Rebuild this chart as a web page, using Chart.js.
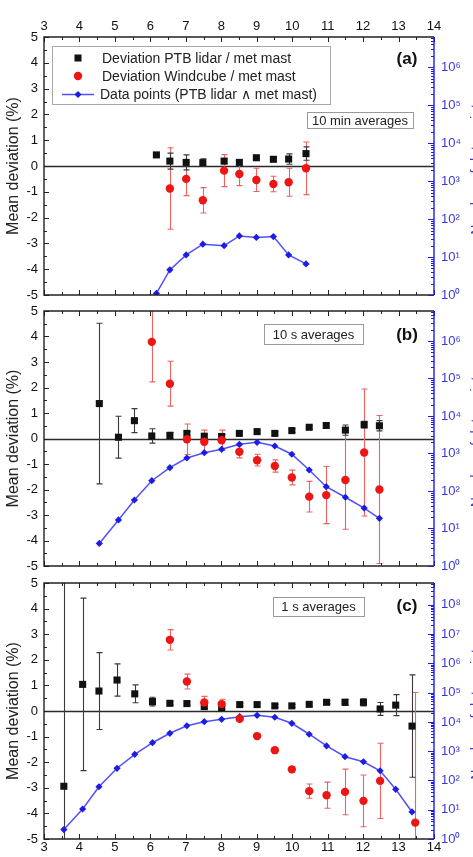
<!DOCTYPE html>
<html>
<head>
<meta charset="utf-8">
<script src="https://cdn.jsdelivr.net/npm/chart.js@4.4.1/dist/chart.umd.min.js"></script>
<style>
  html, body { margin: 0; padding: 0; background: #fff; overflow: hidden; }
  .panel { position: absolute; left: 0; width: 473px; }
</style>
</head>
<body>
<div class="panel" style="top:0;height:303px"><canvas id="panelA"></canvas></div>
<div class="panel" style="top:303px;height:270px"><canvas id="panelB"></canvas></div>
<div class="panel" style="top:572px;height:285px"><canvas id="panelC"></canvas></div>

<script>
// ---- (a) 10 min averages ----
const speedA   = [6.17, 6.55, 7.01, 7.48, 8.08, 8.51, 8.99, 9.47, 9.90, 10.39];
const ptbA     = [0.43, 0.19, 0.14, 0.13, 0.19, 0.14, 0.32, 0.26, 0.27, 0.48];
const ptbErrA  = [0.05, 0.31, 0.29, 0.15, 0.10, 0.08, 0.07, 0.06, 0.20, 0.26];
const wcSpeedA = [6.55, 7.01, 7.48, 8.08, 8.51, 8.99, 9.47, 9.90, 10.39];
const wcA      = [-0.87, -0.50, -1.33, -0.18, -0.31, -0.54, -0.70, -0.63, -0.09];
const wcErrA   = [1.58, 0.65, 0.49, 0.62, 0.45, 0.45, 0.30, 0.54, 1.02];
const countA   = [1.1, 4.6, 11.4, 21.8, 20, 36, 33, 34.6, 11.4, 6.6];

// ---- (b) 10 s averages ----
const speedB   = [4.56, 5.10, 5.55, 6.04, 6.55, 7.03, 7.52, 8.01, 8.51, 9.01, 9.51, 9.99, 10.48, 10.96, 11.50, 12.03, 12.46];
const ptbB     = [1.37, 0.05, 0.70, 0.10, 0.12, 0.20, 0.09, 0.08, 0.20, 0.27, 0.20, 0.31, 0.44, 0.51, 0.33, 0.54, 0.50];
const ptbErrB  = [3.15, 0.82, 0.47, 0.28, 0.12, 0.08, 0.08, 0.08, 0.06, 0.06, 0.06, 0.07, 0.07, 0.09, 0.20, 0.13, 0.20];
const wcSpeedB = [6.04, 6.55, 7.03, 7.52, 8.01, 8.51, 9.01, 9.51, 9.99, 10.48, 10.96, 11.50, 12.03, 12.46];
const wcB      = [3.79, 2.15, -0.03, -0.13, -0.07, -0.52, -0.85, -1.08, -1.53, -2.28, -2.22, -1.63, -0.55, -2.00];
const wcErrB   = [1.57, 0.88, 0.60, 0.46, 0.40, 0.24, 0.23, 0.24, 0.29, 0.60, 1.12, 1.93, 2.49, 2.90];
const countB   = [4.0, 16.9, 57.5, 188, 418, 759, 1050, 1290, 1760, 1990, 1585, 955, 363, 130, 68, 35, 18.7];

// ---- (c) 1 s averages ----
const speedC   = [3.56, 4.09, 4.55, 5.06, 5.56, 6.06, 6.55, 7.03, 7.52, 8.01, 8.52, 9.01, 9.51, 9.99, 10.48, 10.97, 11.49, 12.01, 12.48, 12.92, 13.38];
const ptbC     = [-2.94, 1.04, 0.78, 1.21, 0.67, 0.37, 0.30, 0.29, 0.17, 0.13, 0.25, 0.25, 0.20, 0.20, 0.26, 0.34, 0.34, 0.34, 0.08, 0.23, -0.59];
const ptbErrC  = [8.2, 3.37, 1.50, 0.63, 0.35, 0.17, 0.06, 0.06, 0.06, 0.06, 0.06, 0.06, 0.06, 0.06, 0.06, 0.06, 0.12, 0.14, 0.25, 0.41, 2.0];
const wcSpeedC = [6.55, 7.03, 7.52, 8.01, 8.52, 9.01, 9.51, 9.99, 10.48, 10.97, 11.49, 12.01, 12.48, 13.47];
const wcC      = [2.78, 1.15, 0.33, 0.27, -0.30, -0.98, -1.53, -2.28, -3.13, -3.29, -3.16, -3.51, -2.73, -4.36];
const wcErrC   = [0.40, 0.29, 0.24, 0.19, 0.05, 0.05, 0.05, 0.10, 0.28, 0.51, 0.89, 1.01, 1.47, 5.08];
const countC   = [2.1, 10.6, 61, 261, 785, 1950, 4100, 7400, 10200, 12300, 15100, 16900, 14500, 9000, 3800, 1510, 650, 437, 215, 50, 8.4];

const xTicks = [3, 4, 5, 6, 7, 8, 9, 10, 11, 12, 13, 14];

const FONT      = "'Liberation Sans', Arial, sans-serif";
const BLACK     = "#111111";
const RED       = "#ee1515";
const RED_BAR   = "#f06262";
const BLUE      = "#1c1ce6";
const BLUE_LINE = "#5050ff";
const BLUE_TEXT = "#3a3ad8";
const SUP = ["⁰", "¹", "²", "³", "⁴", "⁵", "⁶", "⁷", "⁸", "⁹"];

const LABEL_PTB = "Deviation PTB lidar / met mast";
const LABEL_WC  = "Deviation Windcube / met mast";
const LABEL_N   = "Data points (PTB lidar \u2227 met mast)";

function toPoints(xs, ys){
  return xs.map((x, i) => ({ x, y: ys[i] }));
}

// fixes the box size of an axis and drops the label overflow padding
function fixAxis(width, height){
  return (s) => {
    if(width !== null) s.width = width;
    if(height !== null) s.height = height;
    s.paddingTop = 0; s.paddingBottom = 0; s.paddingLeft = 0; s.paddingRight = 0;
  };
}

const panelDecor = {
  id: "panelDecor",
  beforeDatasetsDraw(chart){
    const { ctx, chartArea: a, scales: { y } } = chart;
    ctx.save();
    const y0 = Math.round(y.getPixelForValue(0)) + 0.5;
    ctx.strokeStyle = "#2a2a2a";
    ctx.lineWidth = 1.3;
    ctx.beginPath(); ctx.moveTo(a.left, y0); ctx.lineTo(a.right, y0); ctx.stroke();

    ctx.beginPath(); ctx.rect(a.left, a.top, a.right - a.left, a.bottom - a.top); ctx.clip();
    chart.data.datasets.forEach((ds, i) => {
      if(!ds.errors) return;
      const meta = chart.getDatasetMeta(i);
      ctx.strokeStyle = ds.errorColor;
      ctx.lineWidth = 1.1;
      meta.data.forEach((pt, j) => {
        const e = ds.errors[j];
        if(!e) return;
        const v  = ds.data[j].y;
        const yt = y.getPixelForValue(v + e);
        const yb = y.getPixelForValue(v - e);
        const px = Math.round(pt.x) + 0.5;
        ctx.beginPath();
        ctx.moveTo(px, yt); ctx.lineTo(px, yb);
        ctx.moveTo(px - 3, yt); ctx.lineTo(px + 3, yt);
        ctx.moveTo(px - 3, yb); ctx.lineTo(px + 3, yb);
        ctx.stroke();
      });
    });
    ctx.restore();
  },
  afterDraw(chart, args, o){
    const { ctx, chartArea: a, scales: { x, y, yR } } = chart;
    ctx.save();

    // inward ticks on the bottom/left/top frame
    ctx.strokeStyle = "#222";
    ctx.lineWidth = 1;
    ctx.beginPath();
    for(let v = 3; v <= 14; v += 0.5){
      const px = Math.round(x.getPixelForValue(v)) + 0.5;
      const len = Number.isInteger(v) ? 5 : 3;
      ctx.moveTo(px, a.top); ctx.lineTo(px, a.top + len);
      ctx.moveTo(px, a.bottom); ctx.lineTo(px, a.bottom - len);
    }
    for(let v = -5; v <= 5; v += 0.5){
      const py = Math.round(y.getPixelForValue(v)) + 0.5;
      const len = Number.isInteger(v) ? 5 : 3;
      ctx.moveTo(a.left, py); ctx.lineTo(a.left + len, py);
    }
    ctx.stroke();

    ctx.lineWidth = 1.4;
    ctx.beginPath();
    ctx.moveTo(a.right, a.top); ctx.lineTo(a.left, a.top);
    ctx.lineTo(a.left, a.bottom); ctx.lineTo(a.right, a.bottom);
    ctx.stroke();

    // blue log axis on the right
    ctx.strokeStyle = BLUE;
    ctx.beginPath(); ctx.moveTo(a.right, a.top); ctx.lineTo(a.right, a.bottom); ctx.stroke();
    ctx.lineWidth = 1;
    ctx.beginPath();
    for(let e = 0; e <= 9; e++){
      for(let k = 1; k <= 9; k++){
        const v = k * Math.pow(10, e);
        if(v > yR.max) break;
        const py = Math.round(yR.getPixelForValue(v)) + 0.5;
        const len = k === 1 ? 6 : 3;
        ctx.moveTo(a.right, py); ctx.lineTo(a.right - len, py);
      }
    }
    ctx.stroke();

    // right axis title, mostly outside the picture
    ctx.save();
    ctx.translate(a.right + 36, (a.top + a.bottom) / 2);
    ctx.rotate(-Math.PI / 2);
    ctx.fillStyle = BLUE_TEXT;
    ctx.font = `14px ${FONT}`;
    ctx.textAlign = "center";
    ctx.textBaseline = "top";
    ctx.fillText("Number of data points", 0, 0);
    ctx.restore();

    // annotation box
    const [bx, by, bw, bh] = o.noteBox;
    ctx.strokeStyle = "#9a9a9a";
    ctx.lineWidth = 1;
    ctx.strokeRect(Math.round(a.left + bx) + 0.5, Math.round(a.top + by) + 0.5, bw, bh);
    ctx.fillStyle = "#222";
    ctx.font = `13px ${FONT}`;
    ctx.textAlign = "center";
    ctx.textBaseline = "middle";
    ctx.fillText(o.note, a.left + bx + bw / 2, a.top + by + bh / 2 + 1);

    // panel letter
    ctx.font = `bold 17px ${FONT}`;
    ctx.fillStyle = BLACK;
    ctx.fillText(o.letter, a.left + 363, a.top + o.letterY);

    if(o.legend) drawLegend(ctx, a);
    ctx.restore();
  }
};

function drawLegend(ctx, a){
  const lx = a.left + 8, ly = a.top + 9;
  ctx.strokeStyle = "#a8a8a8";
  ctx.lineWidth = 1;
  ctx.strokeRect(Math.round(lx) + 0.5, Math.round(ly) + 0.5, 278, 58);

  const mx = a.left + 34;
  const rows = [a.top + 21, a.top + 39, a.top + 57.5];

  ctx.fillStyle = BLACK;
  ctx.fillRect(mx - 3.5, rows[0] - 3.5, 7, 7);

  ctx.fillStyle = RED;
  ctx.beginPath(); ctx.arc(mx, rows[1], 4.2, 0, Math.PI * 2); ctx.fill();

  ctx.strokeStyle = BLUE_LINE;
  ctx.lineWidth = 1.5;
  ctx.beginPath(); ctx.moveTo(mx - 16, rows[2]); ctx.lineTo(mx + 16, rows[2]); ctx.stroke();
  ctx.fillStyle = BLUE;
  ctx.beginPath();
  ctx.moveTo(mx, rows[2] - 3.5); ctx.lineTo(mx + 3.5, rows[2]);
  ctx.lineTo(mx, rows[2] + 3.5); ctx.lineTo(mx - 3.5, rows[2]);
  ctx.closePath(); ctx.fill();

  ctx.fillStyle = "#222";
  ctx.font = `14px ${FONT}`;
  ctx.textAlign = "left";
  ctx.textBaseline = "middle";
  ctx.fillText(LABEL_PTB, a.left + 58, rows[0] + 1);
  ctx.fillText(LABEL_WC,  a.left + 58, rows[1] + 1);
  ctx.fillText(LABEL_N,   a.left + 56, rows[2] + 1);
}

function buildPanel(id, p){
  const decades = [];
  for(let e = 0; Math.pow(10, e) <= p.countMax; e++) decades.push(Math.pow(10, e));

  return new Chart(document.getElementById(id), {
    type: "line",
    data: {
      datasets: [
        {
          label: LABEL_WC,
          data: toPoints(p.wcSpeed, p.wc),
          errors: p.wcErr,
          errorColor: RED_BAR,
          showLine: false,
          pointStyle: "circle",
          pointRadius: 4.2,
          pointBackgroundColor: RED,
          pointBorderColor: RED,
          pointBorderWidth: 0,
          yAxisID: "y",
          order: 0
        },
        {
          label: LABEL_PTB,
          data: toPoints(p.speed, p.ptb),
          errors: p.ptbErr,
          errorColor: "#3a3a3a",
          showLine: false,
          pointStyle: "rect",
          pointRadius: 5,
          pointBackgroundColor: BLACK,
          pointBorderColor: BLACK,
          pointBorderWidth: 0,
          yAxisID: "y",
          order: 1
        },
        {
          label: LABEL_N,
          data: toPoints(p.speed, p.count),
          showLine: true,
          borderColor: BLUE_LINE,
          borderWidth: 1.5,
          tension: 0,
          pointStyle: "rectRot",
          pointRadius: 3.6,
          pointBackgroundColor: BLUE,
          pointBorderColor: BLUE,
          pointBorderWidth: 0,
          yAxisID: "yR",
          order: 2
        }
      ]
    },
    options: {
      responsive: true,
      maintainAspectRatio: false,
      animation: false,
      events: [],
      layout: { padding: { top: p.padTop, bottom: p.padBottom, left: 0, right: 0 } },
      plugins: {
        legend: { display: false },
        tooltip: { enabled: false },
        panelDecor: { letter: p.letter, letterY: p.letterY, note: p.note, noteBox: p.noteBox, legend: p.legend }
      },
      scales: {
        x: {
          type: "linear",
          position: p.xPos,
          min: 3,
          max: 14,
          afterBuildTicks: (s) => { s.ticks = xTicks.map((v) => ({ value: v })); },
          afterFit: fixAxis(null, p.xHeight),
          grid: { display: false, drawTicks: false },
          border: { display: false },
          ticks: {
            display: p.xLabels,
            color: BLACK,
            padding: p.xPad,
            maxRotation: 0,
            autoSkip: false,
            font: { family: FONT, size: 13, lineHeight: 1 }
          }
        },
        y: {
          type: "linear",
          position: "left",
          min: -5,
          max: 5,
          afterFit: fixAxis(44, null),
          grid: { display: false, drawTicks: false },
          border: { display: false },
          ticks: { stepSize: 1, color: BLACK, padding: 6, font: { family: FONT, size: 13, lineHeight: 1 } },
          title: {
            display: true,
            text: "Mean deviation (%)",
            color: "#222",
            padding: { top: 4, bottom: 0 },
            font: { family: "'Liberation Sans Narrow', 'Liberation Sans', Arial, sans-serif", size: 16 }
          }
        },
        yR: {
          type: "logarithmic",
          position: "right",
          min: 1,
          max: p.countMax,
          afterBuildTicks: (s) => { s.ticks = decades.map((v) => ({ value: v })); },
          afterFit: fixAxis(39, null),
          grid: { display: false, drawTicks: false },
          border: { display: false },
          ticks: {
            color: BLUE_TEXT,
            padding: 7,
            autoSkip: false,
            font: { family: FONT, size: 13, lineHeight: 1 },
            callback: (v) => "10" + SUP[Math.round(Math.log10(v))]
          }
        }
      }
    },
    plugins: [panelDecor]
  });
}

buildPanel("panelA", {
  speed: speedA, ptb: ptbA, ptbErr: ptbErrA, count: countA,
  wcSpeed: wcSpeedA, wc: wcA, wcErr: wcErrA,
  countMax: 6.3e6,
  xPos: "top", xLabels: true, xHeight: 37, xPad: 4,
  padTop: 0, padBottom: 8,
  letter: "(a)", letterY: 22.5,
  note: "10 min averages", noteBox: [263, 75, 106, 16],
  legend: true
});

buildPanel("panelB", {
  speed: speedB, ptb: ptbB, ptbErr: ptbErrB, count: countB,
  wcSpeed: wcSpeedB, wc: wcB, wcErr: wcErrB,
  countMax: 6.3e6,
  xPos: "bottom", xLabels: false, xHeight: 0, xPad: 0,
  padTop: 8, padBottom: 7,
  letter: "(b)", letterY: 24,
  note: "10 s averages", noteBox: [220, 13, 99, 20],
  legend: false
});

buildPanel("panelC", {
  speed: speedC, ptb: ptbC, ptbErr: ptbErrC, count: countC,
  wcSpeed: wcSpeedC, wc: wcC, wcErr: wcErrC,
  countMax: 5.6e8,
  xPos: "bottom", xLabels: true, xHeight: 18, xPad: 2,
  padTop: 11, padBottom: 0,
  letter: "(c)", letterY: 23.5,
  note: "1 s averages", noteBox: [229, 14, 91, 19],
  legend: false
});
</script>
</body>
</html>
